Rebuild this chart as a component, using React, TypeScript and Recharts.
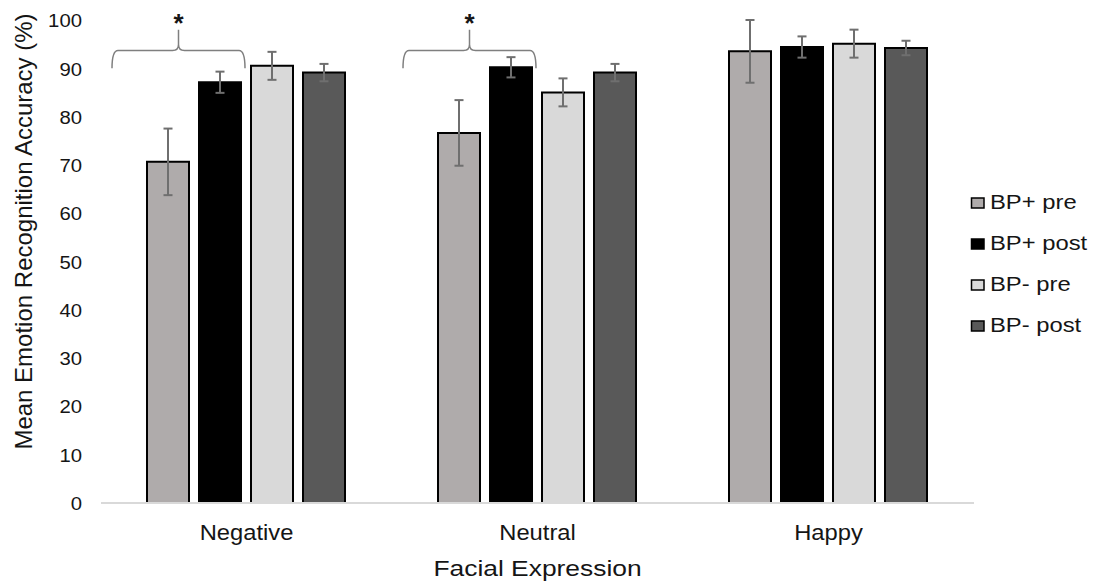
import React from "react";
import { BarChart, Bar, XAxis, YAxis, ErrorBar, Legend, Rectangle } from "recharts";

// values (percent correct, +/- SE)
const CATEGORIES = ["Negative", "Neutral", "Happy"];
const SERIES_NAMES = ["BP+ pre", "BP+ post", "BP- pre", "BP- post"];
const BP_PLUS_PRE = [70.7, 76.7, 93.6];
const BP_PLUS_PRE_ERR = [6.9, 6.8, 6.5];
const BP_PLUS_POST = [87.2, 90.3, 94.5];
const BP_PLUS_POST_ERR = [2.2, 2.1, 2.2];
const BP_MINUS_PRE = [90.6, 85.1, 95.2];
const BP_MINUS_PRE_ERR = [2.9, 2.9, 2.9];
const BP_MINUS_POST = [89.2, 89.2, 94.3];
const BP_MINUS_POST_ERR = [1.8, 1.8, 1.5];
const SIGNIFICANT = [true, true, false];
const Y_TICKS = [0, 10, 20, 30, 40, 50, 60, 70, 80, 90, 100];

const FILLS = ["#afabab", "#000000", "#d9d9d9", "#595959"];
const ERR_COLOR = "#6f6f6f";
const BRACE_COLOR = "#7f7f7f";
const TEXT_COLOR = "#151515";
const FONT = '"Liberation Sans", Arial, sans-serif';
const BAR_GAP = 10;

// brace annotation levels, in axis units
const BRACE_END = 90.1;
const BRACE_BAR = 93.8;
const BRACE_PEAK = 98.1;
const STAR_BASE = 97.6;

const data = CATEGORIES.map((name, i) => ({
  name,
  sig: SIGNIFICANT[i],
  bpPlusPre: BP_PLUS_PRE[i],
  bpPlusPreErr: BP_PLUS_PRE_ERR[i],
  bpPlusPost: BP_PLUS_POST[i],
  bpPlusPostErr: BP_PLUS_POST_ERR[i],
  bpMinusPre: BP_MINUS_PRE[i],
  bpMinusPreErr: BP_MINUS_PRE_ERR[i],
  bpMinusPost: BP_MINUS_POST[i],
  bpMinusPostErr: BP_MINUS_POST_ERR[i],
}));

function PreBarShape(props: any) {
  const { x, y, width, height, payload } = props;
  const v = payload.bpPlusPre;
  const base = y + height;
  const k = height / v;
  const toY = (val: number) => base - val * k;
  let brace = null;
  if (payload.sig) {
    const L = x - 35;
    const R = x + 2 * width + BAR_GAP + 4;
    const mid = (L + R) / 2;
    const yEnd = toY(BRACE_END);
    const yBar = toY(BRACE_BAR);
    const yPeak = toY(BRACE_PEAK);
    const r = 6;
    const d =
      `M${L},${yEnd} Q${L},${yBar} ${L + r},${yBar} H${mid - r} Q${mid},${yBar} ${mid},${yBar - r} V${yPeak}` +
      ` M${mid},${yBar - r} Q${mid},${yBar} ${mid + r},${yBar} H${R - r} Q${R},${yBar} ${R},${yEnd}`;
    brace = (
      <g>
        <path d={d} fill="none" stroke={BRACE_COLOR} strokeWidth={1.5} />
        <text
          x={mid}
          y={toY(STAR_BASE)}
          textAnchor="middle"
          fontSize={26}
          fontWeight="bold"
          fontFamily={FONT}
          fill={TEXT_COLOR}
        >
          *
        </text>
      </g>
    );
  }
  return (
    <g>
      <Rectangle {...props} />
      {brace}
    </g>
  );
}

function YTick({ x, y, payload }: any) {
  return (
    <text
      transform={`translate(${x - 11},${y + 7}) scale(1.07,1)`}
      textAnchor="end"
      fontSize={19}
      fontFamily={FONT}
      fill={TEXT_COLOR}
    >
      {payload.value}
    </text>
  );
}

function XTick({ x, y, payload }: any) {
  return (
    <text
      transform={`translate(${x},${y + 29}) scale(1.08,1)`}
      textAnchor="middle"
      fontSize={22}
      fontFamily={FONT}
      fill={TEXT_COLOR}
    >
      {payload.value}
    </text>
  );
}

function YTitle({ viewBox }: any) {
  const cx = 32;
  const cy = viewBox.y + viewBox.height / 2 - 30;
  return (
    <text
      transform={`translate(${cx},${cy}) rotate(-90)`}
      textAnchor="middle"
      fontSize={24}
      fontFamily={FONT}
      fill={TEXT_COLOR}
    >
      Mean Emotion Recognition Accuracy (%)
    </text>
  );
}

function XTitle({ viewBox }: any) {
  const cx = viewBox.x + viewBox.width / 2;
  const cy = viewBox.y + 73;
  return (
    <text
      transform={`translate(${cx},${cy}) scale(1.2,1)`}
      textAnchor="middle"
      fontSize={22}
      fontFamily={FONT}
      fill={TEXT_COLOR}
    >
      Facial Expression
    </text>
  );
}

function LegendBox({ payload }: any) {
  // keep series order rather than the legend's default sort
  const items = [...(payload || [])].sort(
    (a: any, b: any) => SERIES_NAMES.indexOf(a.value) - SERIES_NAMES.indexOf(b.value)
  );
  return (
    <svg width={133} height={170} style={{ display: "block" }}>
      {items.map((item: any, i: number) => (
        <g key={item.value} transform={`translate(0,${i * 41})`}>
          <rect x={6.5} y={8} width={12.5} height={10} fill={item.color} stroke="#000" strokeWidth={1.5} />
          <text
            transform="translate(25,19.3) scale(1.19,1)"
            fontSize={20}
            fontFamily={FONT}
            fill={TEXT_COLOR}
          >
            {item.value}
          </text>
        </g>
      ))}
    </svg>
  );
}

export default function App() {
  return (
    <div style={{ position: "absolute", left: 0, top: 0, width: 1098, height: 585, background: "#fff" }}>
      <BarChart
        width={1098}
        height={585}
        data={data}
        margin={{ top: 20, right: 124, bottom: 52, left: 0 }}
        barCategoryGap={46}
        barGap={BAR_GAP}
      >
        <XAxis
          dataKey="name"
          height={30}
          tickLine={false}
          axisLine={{ stroke: "#d9d9d9", strokeWidth: 2 }}
          tick={<XTick />}
          label={<XTitle />}
        />
        <YAxis
          width={101}
          domain={[0, 100]}
          ticks={Y_TICKS}
          interval={0}
          axisLine={false}
          tickLine={false}
          tick={<YTick />}
          label={<YTitle />}
        />
        <Legend
          layout="vertical"
          align="center"
          verticalAlign="middle"
          wrapperStyle={{ left: 965, top: 190, width: 133 }}
          content={<LegendBox />}
        />
        <Bar
          dataKey="bpPlusPre"
          name={SERIES_NAMES[0]}
          fill={FILLS[0]}
          stroke="#000"
          strokeWidth={2}
          shape={<PreBarShape />}
          isAnimationActive={false}
        >
          <ErrorBar dataKey="bpPlusPreErr" width={4.5} stroke={ERR_COLOR} strokeWidth={2} direction="y" />
        </Bar>
        <Bar dataKey="bpPlusPost" name={SERIES_NAMES[1]} fill={FILLS[1]} stroke="#000" strokeWidth={2} isAnimationActive={false}>
          <ErrorBar dataKey="bpPlusPostErr" width={4.5} stroke={ERR_COLOR} strokeWidth={2} direction="y" />
        </Bar>
        <Bar dataKey="bpMinusPre" name={SERIES_NAMES[2]} fill={FILLS[2]} stroke="#000" strokeWidth={2} isAnimationActive={false}>
          <ErrorBar dataKey="bpMinusPreErr" width={4.5} stroke={ERR_COLOR} strokeWidth={2} direction="y" />
        </Bar>
        <Bar dataKey="bpMinusPost" name={SERIES_NAMES[3]} fill={FILLS[3]} stroke="#000" strokeWidth={2} isAnimationActive={false}>
          <ErrorBar dataKey="bpMinusPostErr" width={4.5} stroke={ERR_COLOR} strokeWidth={2} direction="y" />
        </Bar>
      </BarChart>
    </div>
  );
}
